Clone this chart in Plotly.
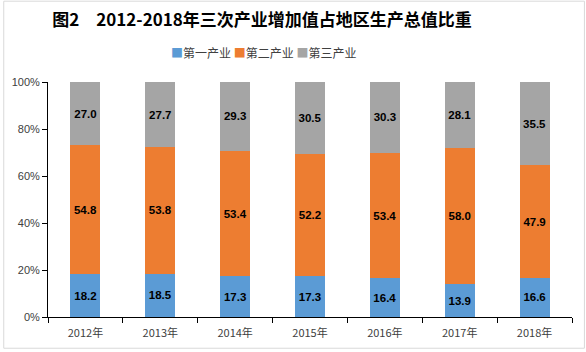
import plotly.graph_objects as go

years = ["2012年", "2013年", "2014年", "2015年", "2016年", "2017年", "2018年"]
primary = [18.2, 18.5, 17.3, 17.3, 16.4, 13.9, 16.6]
secondary = [54.8, 53.8, 53.4, 52.2, 53.4, 58.0, 47.9]
tertiary = [27.0, 27.7, 29.3, 30.5, 30.3, 28.1, 35.5]
names = ["第一产业", "第二产业", "第三产业"]
colors = ["#5B9BD5", "#ED7D31", "#A5A5A5"]
tick_vals = [0, 20, 40, 60, 80, 100]
tick_text = ["0%", "20%", "40%", "60%", "80%", "100%"]

fig = go.Figure()
for name, vals, c in zip(names, [primary, secondary, tertiary], colors):
    fig.add_trace(go.Bar(
        x=years, y=vals, name=name, marker=dict(color=c, line=dict(width=0)),
        text=[f"{v:.1f}" for v in vals], textposition="inside",
        insidetextanchor="middle", showlegend=False,
        textfont=dict(family="Liberation Sans, Arial", size=11.5, color="#000000", weight="bold"),
    ))

L, R, T, B = 45, 14, 82, 33
W, H = 586, 352
pw, ph = W - L - R, H - T - B

legend_html = "".join(
    f"<span style='color:{c}'>■</span>{n}" + (" " if i < 2 else "")
    for i, (n, c) in enumerate(zip(names, colors))
)
cx = (262 - L) / pw

fig.update_layout(
    width=W, height=H,
    barmode="stack", bargap=0.6,
    margin=dict(l=L, r=R, t=T, b=B),
    paper_bgcolor="white", plot_bgcolor="white",
    showlegend=False,
    title=dict(text="图2　2012-2018年三次产业增加值占地区生产总值比重",
               x=262 / W, xanchor="center", y=1 - 20 / H, yanchor="middle",
               font=dict(family="Noto Sans CJK SC", size=17, color="#000000", weight="bold")),
    annotations=[dict(text=legend_html, xref="paper", yref="paper", x=cx, xanchor="center",
                      y=1 + 30 / ph, yanchor="middle", showarrow=False,
                      font=dict(family="Noto Sans CJK SC", size=12, color="#404040"))],
    uniformtext=dict(minsize=8, mode="show"),
    xaxis=dict(showline=True, linecolor="#000000", linewidth=1, ticks="outside",
               tickson="boundaries", ticklen=5, tickcolor="#000000", ticklabelstandoff=6,
               tickfont=dict(family="Noto Sans CJK SC", size=11, color="#404040")),
    yaxis=dict(range=[0, 100], tickvals=tick_vals, ticktext=tick_text,
               showline=True, linecolor="#000000", linewidth=1, ticks="outside",
               ticklen=5, tickcolor="#000000", showgrid=False, zeroline=False,
               tickfont=dict(family="Liberation Sans, Arial", size=11, color="#404040")),
    shapes=[dict(type="rect", xref="paper", yref="paper",
                 x0=-(L - 0.5) / pw, x1=1 + (R - 1.5) / pw,
                 y0=-(B - 1.5) / ph, y1=1 + (T - 0.5) / ph,
                 line=dict(color="#D9D9D9", width=1), fillcolor="rgba(0,0,0,0)", layer="below")],
)

fig.write_html("out.html")
